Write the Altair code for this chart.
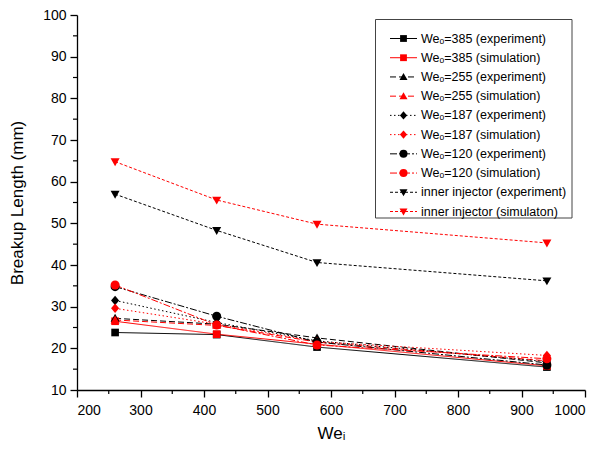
import altair as alt
import pandas as pd

# Inner-jet Weber number at which breakup length was measured / simulated
we_i = [260, 420, 578, 940]

# Breakup length (mm) for each outer Weber number, experiment vs. simulation
exp_385 = [23.8, 23.3, 20.3, 15.5]
sim_385 = [26.5, 23.4, 21.0, 15.8]
exp_255 = [27.2, 25.8, 22.5, 16.5]
sim_255 = [26.8, 25.5, 21.5, 17.0]
exp_187 = [31.5, 26.2, 21.8, 16.8]
sim_187 = [29.6, 25.8, 21.6, 18.3]
exp_120 = [34.8, 27.7, 21.5, 16.0]
sim_120 = [35.2, 25.6, 20.8, 17.5]
exp_inner = [57.0, 48.3, 40.6, 36.2]
sim_inner = [64.8, 55.6, 49.8, 45.3]

series_names = [
    "Weₒ=385 (experiment)", "Weₒ=385 (simulation)",
    "Weₒ=255 (experiment)", "Weₒ=255 (simulation)",
    "Weₒ=187 (experiment)", "Weₒ=187 (simulation)",
    "Weₒ=120 (experiment)", "Weₒ=120 (simulation)",
    "inner injector (experiment)", "inner injector (simulaton)",
]
series_values = [exp_385, sim_385, exp_255, sim_255, exp_187, sim_187,
                 exp_120, sim_120, exp_inner, sim_inner]

x_ticks = [200, 300, 400, 500, 600, 700, 800, 900, 1000]
y_ticks = [10, 20, 30, 40, 50, 60, 70, 80, 90, 100]
x_minor = [250, 350, 450, 550, 650, 750, 850, 950]
y_minor = [15, 25, 35, 45, 55, 65, 75, 85, 95]

rows = []
for name, vals in zip(series_names, series_values):
    for xv, yv in zip(we_i, vals):
        rows.append({"series": name, "we_i": xv, "L": yv})
df = pd.DataFrame(rows)
legend_df = pd.DataFrame({"series": series_names, "row": list(range(len(series_names)))})

# marker outlines in the unit box [-1, 1]
SQUARE = "M-0.85,-0.85H0.85V0.85H-0.85Z"
TRI_UP = "M0,-1L1,0.75L-1,0.75Z"
DIAMOND = "M0,-1.05L0.9,0L0,1.05L-0.9,0Z"
TRI_DOWN = "M0,1L1,-0.75L-1,-0.75Z"

BLACK, RED = "#000000", "#ff0000"
color_scale = alt.Scale(domain=series_names, range=[BLACK, RED] * 5)
shape_scale = alt.Scale(
    domain=series_names,
    range=[SQUARE, SQUARE, TRI_UP, TRI_UP, DIAMOND, DIAMOND,
           "circle", "circle", TRI_DOWN, TRI_DOWN],
)
dash_scale = alt.Scale(
    domain=series_names,
    range=[[1, 0], [1, 0], [6, 3], [6, 3], [1.5, 2.5], [1.5, 2.5],
           [7, 2, 2, 2], [7, 2, 2, 2], [3, 2], [3, 2]],
)

W, H = 508, 375
X_TITLE = "Weᵢ"
Y_TITLE = "Breakup Length (mm)"
FONT = "Liberation Sans, Arial, DejaVu Sans"
xs = alt.Scale(domain=[200, 1000], nice=False, zero=False)
ys = alt.Scale(domain=[10, 100], nice=False, zero=False)
x_axis = alt.Axis(values=x_ticks, format="d")
y_axis = alt.Axis(values=y_ticks, format="d")

base = alt.Chart(df)
lines = base.mark_line(strokeWidth=1).encode(
    x=alt.X("we_i:Q", scale=xs, title=X_TITLE, axis=x_axis),
    y=alt.Y("L:Q", scale=ys, title=Y_TITLE, axis=y_axis),
    color=alt.Color("series:N", scale=color_scale, legend=None),
    strokeDash=alt.StrokeDash("series:N", scale=dash_scale, legend=None),
    detail="series:N",
)
points = base.mark_point(filled=True, opacity=1, size=81).encode(
    x=alt.X("we_i:Q", scale=xs, title=X_TITLE, axis=x_axis),
    y=alt.Y("L:Q", scale=ys, title=Y_TITLE, axis=y_axis),
    color=alt.Color("series:N", scale=color_scale, legend=None),
    shape=alt.Shape("series:N", scale=shape_scale, legend=None),
)

# minor tick marks on both axes
minor_y = alt.Chart(pd.DataFrame({"L": y_minor})).mark_rule(color="black", strokeWidth=1.2).encode(
    y=alt.Y("L:Q", scale=ys, title=Y_TITLE, axis=y_axis), x=alt.value(0), x2=alt.value(-4)
)
minor_x = alt.Chart(pd.DataFrame({"we_i": x_minor})).mark_rule(color="black", strokeWidth=1.2).encode(
    x=alt.X("we_i:Q", scale=xs, title=X_TITLE, axis=x_axis), y=alt.value(H), y2=alt.value(H + 4)
)

main = alt.layer(lines, points, minor_y, minor_x)

# legend box drawn inside the plot area
row_scale = alt.Scale(domain=[0, 9], range=[23.5, 196.5])
box = alt.Chart(pd.DataFrame({"a": [0]})).mark_rect(
    fill="white", stroke="#444444", strokeWidth=1
).encode(x=alt.value(298.5), x2=alt.value(495), y=alt.value(4.5), y2=alt.value(203))
leg_base = alt.Chart(legend_df)
leg_lines = leg_base.mark_rule(strokeWidth=1).encode(
    y=alt.Y("row:Q", scale=row_scale, axis=None),
    x=alt.value(313), x2=alt.value(340),
    color=alt.Color("series:N", scale=color_scale, legend=None),
    strokeDash=alt.StrokeDash("series:N", scale=dash_scale, legend=None),
)
leg_pts = leg_base.mark_point(filled=True, opacity=1, size=64).encode(
    y=alt.Y("row:Q", scale=row_scale, axis=None),
    x=alt.value(326.5),
    color=alt.Color("series:N", scale=color_scale, legend=None),
    shape=alt.Shape("series:N", scale=shape_scale, legend=None),
)
leg_text = leg_base.mark_text(
    align="left", baseline="middle", fontSize=12.5, color="black", font=FONT
).encode(
    y=alt.Y("row:Q", scale=row_scale, axis=None),
    x=alt.value(344),
    text="series:N",
)
legend = alt.layer(box, leg_lines, leg_pts, leg_text)

chart = (
    alt.layer(main, legend)
    .resolve_scale(y="independent")
    .properties(
        width=W, height=H,
        autosize=alt.AutoSizeParams(type="none"),
        padding={"left": 77, "top": 15, "right": 28, "bottom": 64},
    )
    .configure_view(stroke=None)
    .configure_axis(
        grid=False,
        domainColor="black", domainWidth=1.3,
        tickColor="black", tickWidth=1.3, tickSize=7,
        labelColor="black", labelFontSize=14, labelFont=FONT,
        titleColor="black", titleFontSize=17, titleFontWeight="normal", titleFont=FONT,
    )
    .configure_axisX(labelPadding=6, titlePadding=8)
    .configure_axisY(labelPadding=4, titlePadding=16)
)

chart.save("out.html", embed_options={"renderer": "svg", "actions": False})
